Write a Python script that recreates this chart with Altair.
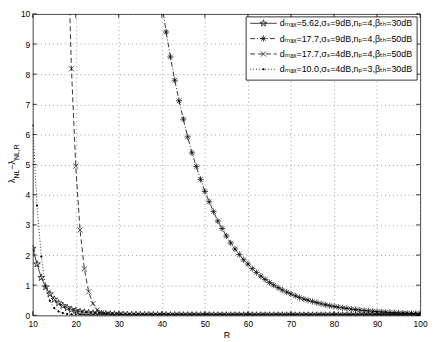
import altair as alt
import pandas as pd

# ---------------- data ----------------
R_s1 = list(range(10, 101))
s1_vals = [2.22, 1.70, 1.25, 0.94, 0.71, 0.53, 0.41, 0.32, 0.25, 0.19,
           0.15, 0.12, 0.10, 0.083, 0.070, 0.060, 0.052, 0.045, 0.040, 0.035,
           0.031, 0.028, 0.025, 0.023, 0.021, 0.019, 0.017, 0.016, 0.015, 0.014,
           0.013, 0.012, 0.011, 0.010, 0.010, 0.009, 0.009, 0.008, 0.008, 0.007,
           0.007, 0.007, 0.006, 0.006, 0.006, 0.006, 0.005, 0.005, 0.005, 0.005,
           0.005, 0.004, 0.004, 0.004, 0.004, 0.004, 0.004, 0.004, 0.004, 0.004,
           0.004, 0.003, 0.003, 0.003, 0.003, 0.003, 0.003, 0.003, 0.003, 0.003,
           0.003, 0.003, 0.003, 0.003, 0.003, 0.003, 0.003, 0.003, 0.003, 0.003,
           0.003, 0.003, 0.002, 0.002, 0.002, 0.002, 0.002, 0.002, 0.002, 0.002,
           0.002]

R_s2 = list(range(40, 101))
s2_vals = [10.35, 9.40, 8.57, 7.80, 7.12, 6.51, 5.92, 5.39, 4.94, 4.51,
           4.11, 3.77, 3.44, 3.13, 2.88, 2.63, 2.40, 2.20, 2.02, 1.84,
           1.70, 1.55, 1.42, 1.30, 1.19, 1.09, 1.00, 0.92, 0.84, 0.77,
           0.71, 0.65, 0.59, 0.54, 0.50, 0.46, 0.42, 0.385, 0.35, 0.32,
           0.295, 0.27, 0.25, 0.23, 0.21, 0.19, 0.175, 0.16, 0.147, 0.135,
           0.124, 0.113, 0.104, 0.095, 0.087, 0.080, 0.073, 0.067, 0.062, 0.057,
           0.052]

R_s3 = list(range(18, 101))
s3_vals = [13.0, 8.18, 4.95, 2.83, 1.54, 0.78, 0.39, 0.18, 0.085, 0.045,
           0.026, 0.017, 0.012, 0.009, 0.007, 0.006, 0.005, 0.004, 0.004, 0.003,
           0.003, 0.003, 0.003, 0.003, 0.003, 0.003, 0.003, 0.003, 0.003, 0.003,
           0.003, 0.003, 0.002, 0.002, 0.002, 0.002, 0.002, 0.002, 0.002, 0.002,
           0.002, 0.002, 0.002, 0.002, 0.002, 0.002, 0.002, 0.002, 0.002, 0.002,
           0.002, 0.002, 0.001, 0.001, 0.001, 0.001, 0.001, 0.001, 0.001, 0.001,
           0.001, 0.001, 0.001, 0.001, 0.001, 0.001, 0.001, 0.001, 0.001, 0.001,
           0.001, 0.001, 0.001, 0.001, 0.001, 0.001, 0.001, 0.001, 0.001, 0.001,
           0.001, 0.001, 0.001]

R_s4 = list(range(10, 101))
s4_vals = [6.30, 3.64, 1.95, 0.95, 0.48, 0.24, 0.13, 0.075, 0.045, 0.030,
           0.020, 0.014, 0.010, 0.008, 0.006, 0.005, 0.004, 0.003, 0.003, 0.002,
           0.002, 0.002, 0.002, 0.002, 0.002, 0.002, 0.002, 0.002, 0.002, 0.002,
           0.002, 0.002, 0.002, 0.002, 0.002, 0.002, 0.002, 0.002, 0.002, 0.002,
           0.001, 0.001, 0.001, 0.001, 0.001, 0.001, 0.001, 0.001, 0.001, 0.001,
           0.001, 0.001, 0.001, 0.001, 0.001, 0.001, 0.001, 0.001, 0.001, 0.001,
           0.001, 0.001, 0.001, 0.001, 0.001, 0.001, 0.001, 0.001, 0.001, 0.001,
           0.001, 0.001, 0.001, 0.001, 0.001, 0.001, 0.001, 0.001, 0.001, 0.001,
           0.001, 0.001, 0.001, 0.001, 0.001, 0.001, 0.001, 0.001, 0.001, 0.001,
           0.001]

x_ticks = [10, 20, 30, 40, 50, 60, 70, 80, 90, 100]
y_ticks = [0, 1, 2, 3, 4, 5, 6, 7, 8, 9, 10]

legend_labels = [
    "dₘₐₓ=5.62,σₛ=9dB,nₚ=4,βₜₕ=30dB",
    "dₘₐₓ=17.7,σₛ=9dB,nₚ=4,βₜₕ=50dB",
    "dₘₐₓ=17.7,σₛ=4dB,nₚ=4,βₜₕ=50dB",
    "dₘₐₓ=10.0,σₛ=4dB,nₚ=3,βₜₕ=30dB",
]
x_title = "R"

# ---------------- styling ----------------
W, H = 392, 305
FONT = "Liberation Sans"
INK = "#000000"

STAR = ("M0,-1L0.2245,-0.309L0.9511,-0.309L0.3633,0.118L0.5878,0.809L0,0.382"
        "L-0.5878,0.809L-0.3633,0.118L-0.9511,-0.309L-0.2245,-0.309Z")
ASTERISK = "M-1,0L1,0M0,-1L0,1M-0.7,-0.7L0.7,0.7M-0.7,0.7L0.7,-0.7"
XMARK = "M-1,-1L1,1M-1,1L1,-1"

styles = [
    dict(dash=[1, 0], shape=STAR, size=50, filled=False),
    dict(dash=[5, 2, 1, 2], shape=ASTERISK, size=40, filled=False),
    dict(dash=[5, 3], shape=XMARK, size=28, filled=False),
    dict(dash=[1, 2], shape="circle", size=5, filled=True),
]

xs = alt.Scale(domain=[10, 100], nice=False, zero=False)
ys = alt.Scale(domain=[0, 10], nice=False, zero=False)

x_axis = alt.Axis(values=x_ticks, ticks=False, domain=False, grid=True,
                  gridDash=[1, 3], gridColor="#888888", gridWidth=0.8,
                  labelFont=FONT, labelFontSize=8.5, labelColor=INK,
                  labelPadding=4, labelFlush=False, labelOverlap=False,
                  title=x_title, titleFont=FONT, titleFontSize=9,
                  titleFontWeight="normal", titleColor=INK, titlePadding=3)
y_axis = alt.Axis(values=y_ticks, ticks=False, domain=False, grid=True,
                  gridDash=[1, 3], gridColor="#888888", gridWidth=0.8,
                  labelFont=FONT, labelFontSize=8.5, labelColor=INK,
                  labelPadding=3, labelFlush=False, labelOverlap=False,
                  title="")

X = alt.X("R:Q", scale=xs, axis=x_axis)
Y = alt.Y("val:Q", scale=ys, axis=y_axis)

series = [(R_s1, s1_vals), (R_s2, s2_vals), (R_s3, s3_vals), (R_s4, s4_vals)]

layers = []
for (rr, vv), st in zip(series, styles):
    df = pd.DataFrame({"R": rr, "val": vv})
    layers.append(
        alt.Chart(df).mark_line(color=INK, strokeWidth=0.8, strokeDash=st["dash"], clip=True)
        .encode(x=X, y=Y)
    )
    layers.append(
        alt.Chart(df).mark_point(shape=st["shape"], size=st["size"], filled=st["filled"],
                                 color=INK, strokeWidth=0.7, opacity=1, clip=True)
        .encode(x=X, y=Y)
    )

# inward tick marks on all four sides
dfx = pd.DataFrame({"R": x_ticks})
dfy = pd.DataFrame({"val": y_ticks})
layers.append(alt.Chart(dfx).mark_rule(color=INK, strokeWidth=0.8)
              .encode(x=X, y=alt.value(H), y2=alt.value(H - 4)))
layers.append(alt.Chart(dfx).mark_rule(color=INK, strokeWidth=0.8)
              .encode(x=X, y=alt.value(0), y2=alt.value(4)))
layers.append(alt.Chart(dfy).mark_rule(color=INK, strokeWidth=0.8)
              .encode(y=Y, x=alt.value(0), x2=alt.value(4)))
layers.append(alt.Chart(dfy).mark_rule(color=INK, strokeWidth=0.8)
              .encode(y=Y, x=alt.value(W), x2=alt.value(W - 4)))

one = pd.DataFrame({"a": [0]})

# legend box
LX0, LX1, LY0, LY1 = 216, 389, 3, 67
layers.append(alt.Chart(one).mark_rect(fill="white", stroke=INK, strokeWidth=0.8)
              .encode(x=alt.value(LX0), x2=alt.value(LX1), y=alt.value(LY0), y2=alt.value(LY1)))
row_y = [9.5, 25, 40.5, 56]
for lab, st, ry in zip(legend_labels, styles, row_y):
    layers.append(alt.Chart(one).mark_rule(color=INK, strokeWidth=0.8, strokeDash=st["dash"])
                  .encode(x=alt.value(220), x2=alt.value(247), y=alt.value(ry)))
    layers.append(alt.Chart(one).mark_point(shape=st["shape"], size=st["size"], filled=st["filled"],
                                            color=INK, strokeWidth=0.7, opacity=1)
                  .encode(x=alt.value(233.5), y=alt.value(ry)))
    layers.append(alt.Chart(one).mark_text(text=lab, font=FONT + ", DejaVu Sans", fontSize=9,
                                           align="left", baseline="alphabetic", color=INK)
                  .encode(x=alt.value(250), y=alt.value(ry + 3)))

# y-axis title lambda_NL - lambda_NL,R built from pieces (rotated)
title_pieces = [("λ", 9, -17.5, 171.0),
                ("NL", 7, -14.0, 166.5),
                ("−λ", 9, -17.5, 157.6),
                ("NL,R", 7, -14.0, 147.8)]
for txt, fs, tx, ty in title_pieces:
    layers.append(alt.Chart(one).mark_text(text=txt, font=FONT, fontSize=fs, angle=270,
                                           align="left", baseline="alphabetic", color=INK)
                  .encode(x=alt.value(tx), y=alt.value(ty)))

chart = alt.layer(*layers).properties(
    width=W, height=H,
    autosize=alt.AutoSizeParams(type="none"),
    padding={"left": 25, "top": 4, "right": 8, "bottom": 25},
    background="white",
).configure_view(stroke="#444444", strokeWidth=1)

chart.save("out.html", embed_options={"renderer": "svg", "actions": False})
